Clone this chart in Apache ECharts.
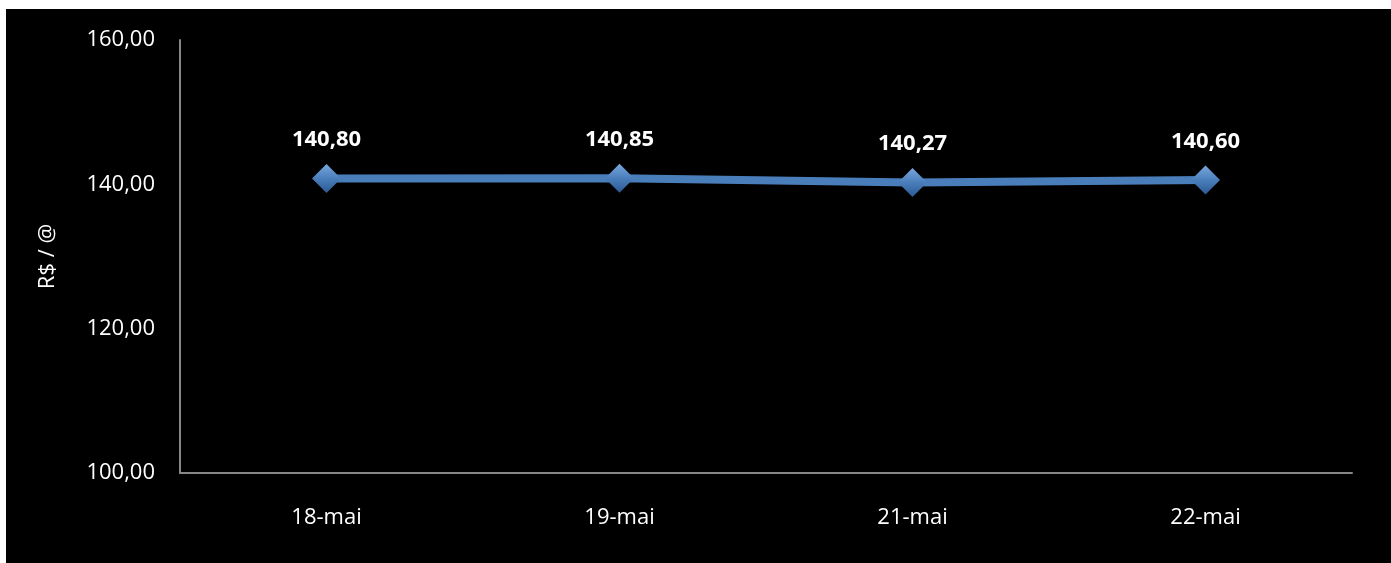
<!DOCTYPE html>
<html>
<head>
<meta charset="utf-8">
<script src="https://cdn.jsdelivr.net/npm/echarts@6/dist/echarts.min.js"></script>
<style>
  html, body { margin: 0; padding: 0; background: #fff; }
  #chart { position: absolute; left: 6px; top: 9px; width: 1385px; height: 554px; background: #000; }
</style>
</head>
<body>
<div id="chart"></div>
<script>
// dados do gráfico
const dates = ['18-mai', '19-mai', '21-mai', '22-mai'];
const prices = [140.80, 140.85, 140.27, 140.60];
const yMin = 100, yMax = 160, yStep = 20;

const fmt = v => Number(v).toFixed(2).replace('.', ',');
const font = 'Open Sans, Liberation Sans, sans-serif';

const chart = echarts.init(document.getElementById('chart'));
chart.setOption({
  backgroundColor: '#000',
  animation: false,
  grid: { left: 174, right: 39, top: 31, bottom: 90 },
  xAxis: {
    type: 'category',
    data: dates,
    axisLine: { lineStyle: { color: '#868686', width: 2 } },
    axisTick: { show: false },
    axisLabel: { color: '#fff', fontSize: 22, fontFamily: font, margin: 34 }
  },
  yAxis: {
    type: 'value',
    min: yMin, max: yMax, interval: yStep,
    name: 'R$ / @',
    nameLocation: 'middle',
    nameGap: 121,
    nameRotate: 90,
    nameTextStyle: { color: '#fff', fontSize: 22, fontFamily: font },
    splitLine: { show: false },
    axisLine: { show: true, lineStyle: { color: '#868686', width: 2 } },
    axisTick: { show: false },
    axisLabel: { color: '#fff', fontSize: 22, fontFamily: font, margin: 25, formatter: fmt }
  },
  series: [{
    type: 'line',
    data: prices,
    symbol: 'diamond',
    symbolSize: 29,
    lineStyle: { color: '#4a7ebb', width: 8 },
    itemStyle: {
      color: new echarts.graphic.LinearGradient(0, 0, 0, 1, [
        { offset: 0, color: '#7aa7de' },
        { offset: 0.5, color: '#4a7ebb' },
        { offset: 1, color: '#2c5a94' }
      ]),
      borderWidth: 0
    },
    label: {
      show: true,
      position: 'top',
      distance: 13,
      color: '#fff',
      fontSize: 22,
      fontWeight: 'bold',
      fontFamily: font,
      formatter: p => fmt(p.value)
    }
  }]
});
</script>
</body>
</html>
